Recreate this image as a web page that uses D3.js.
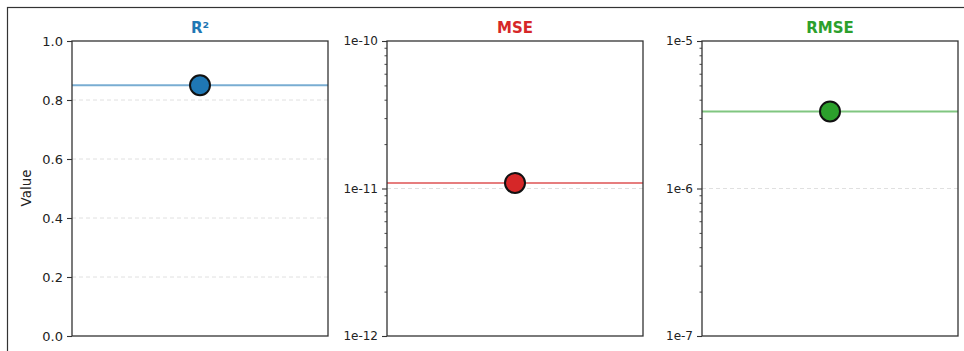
<!DOCTYPE html>
<html>
<head>
<meta charset="utf-8">
<script src="https://cdn.jsdelivr.net/npm/d3@7"></script>
<style>
  html, body { margin: 0; padding: 0; background: #fff; }
  svg { display: block; }
</style>
</head>
<body>
<svg id="chart" width="964" height="351"></svg>
<script>
// Metric names, values and colours for the three panels
const metrics = ["R²", "MSE", "RMSE"];
const values = [0.85, 1.09e-11, 3.33e-6];
const colors = ["#1f77b4", "#d62728", "#2ca02c"];
// Axis domains per panel
const domains = [[0, 1], [1e-12, 1e-10], [1e-7, 1e-5]];
const scaleTypes = ["linear", "log", "log"];
const linearTicks = [0.0, 0.2, 0.4, 0.6, 0.8, 1.0];
const yLabel = "Value";

(function () {
  const svg = d3.select("#chart");
  const W = 964, H = 351;

  // outer frame
  svg.append("rect")
    .attr("x", 7.5).attr("y", 7.5)
    .attr("width", W + 20).attr("height", H + 20)
    .attr("fill", "none").attr("stroke", "#333").attr("stroke-width", 1.2);

  const panelLeft = [72, 387, 702];
  const panelW = 256;
  const plotTop = 41, plotBottom = 336;

  const fontTick = "'DejaVu Sans', sans-serif";

  metrics.forEach((name, i) => {
    const g = svg.append("g").attr("transform", `translate(${panelLeft[i]},0)`);
    const x = d3.scalePoint().domain([name]).range([0, panelW]).padding(0.5);
    let y, majorTicks, minorTicks = [], fmt, tickFont;
    if (scaleTypes[i] === "linear") {
      y = d3.scaleLinear().domain(domains[i]).range([plotBottom, plotTop]);
      majorTicks = linearTicks;
      fmt = d3.format(".1f");
      tickFont = "13px";
    } else {
      y = d3.scaleLog().domain(domains[i]).range([plotBottom, plotTop]);
      const lo = Math.round(Math.log10(domains[i][0]));
      const hi = Math.round(Math.log10(domains[i][1]));
      majorTicks = d3.range(lo, hi + 1).map(e => Math.pow(10, e));
      for (let e = lo; e < hi; e++) {
        for (let m = 2; m <= 9; m++) minorTicks.push(m * Math.pow(10, e));
      }
      fmt = v => "1e" + Math.round(Math.log10(v));
      tickFont = "12px";
    }

    // dashed grid lines at major ticks
    g.append("g").selectAll("line")
      .data(majorTicks.filter(t => t !== domains[i][0] && t !== domains[i][1]))
      .join("line")
      .attr("x1", 0).attr("x2", panelW)
      .attr("y1", d => y(d)).attr("y2", d => y(d))
      .attr("stroke", "#d8d8d8").attr("stroke-width", 0.8)
      .attr("stroke-dasharray", "4,3");

    // reference line at the metric value
    g.append("line")
      .attr("x1", 0).attr("x2", panelW)
      .attr("y1", y(values[i])).attr("y2", y(values[i]))
      .attr("stroke", colors[i]).attr("stroke-opacity", 0.6)
      .attr("stroke-width", 2);

    // value marker
    g.append("circle")
      .attr("cx", x(name)).attr("cy", y(values[i]))
      .attr("r", 10)
      .attr("fill", colors[i])
      .attr("stroke", "#111").attr("stroke-width", 2);

    // y axis
    const axis = d3.axisLeft(y).tickValues(majorTicks).tickFormat(fmt)
      .tickSize(5).tickPadding(4).tickSizeOuter(0);
    const ax = g.append("g").call(axis);
    ax.select(".domain").remove();
    ax.selectAll(".tick line").attr("stroke", "#333").attr("stroke-width", 1.1);
    ax.selectAll(".tick text")
      .attr("fill", "#222")
      .style("font-family", fontTick)
      .style("font-size", tickFont);

    if (minorTicks.length) {
      const minAxis = d3.axisLeft(y).tickValues(minorTicks).tickFormat("")
        .tickSize(2.5).tickSizeOuter(0);
      const mx = g.append("g").call(minAxis);
      mx.select(".domain").remove();
      mx.selectAll(".tick line").attr("stroke", "#333").attr("stroke-width", 0.9);
    }

    // panel frame
    g.append("rect")
      .attr("x", 0).attr("y", plotTop)
      .attr("width", panelW).attr("height", plotBottom - plotTop)
      .attr("fill", "none").attr("stroke", "#333").attr("stroke-width", 1.3);

    // title
    g.append("text")
      .attr("x", panelW / 2).attr("y", 33)
      .attr("text-anchor", "middle")
      .attr("fill", colors[i])
      .style("font-family", fontTick)
      .style("font-weight", "bold")
      .style("font-size", "15px")
      .text(name);
  });

  // shared y-axis label
  svg.append("text")
    .attr("transform", `translate(31,188) rotate(-90)`)
    .attr("text-anchor", "middle")
    .attr("fill", "#222")
    .style("font-family", fontTick)
    .style("font-size", "13.5px")
    .text(yLabel);
})();
</script>
</body>
</html>
